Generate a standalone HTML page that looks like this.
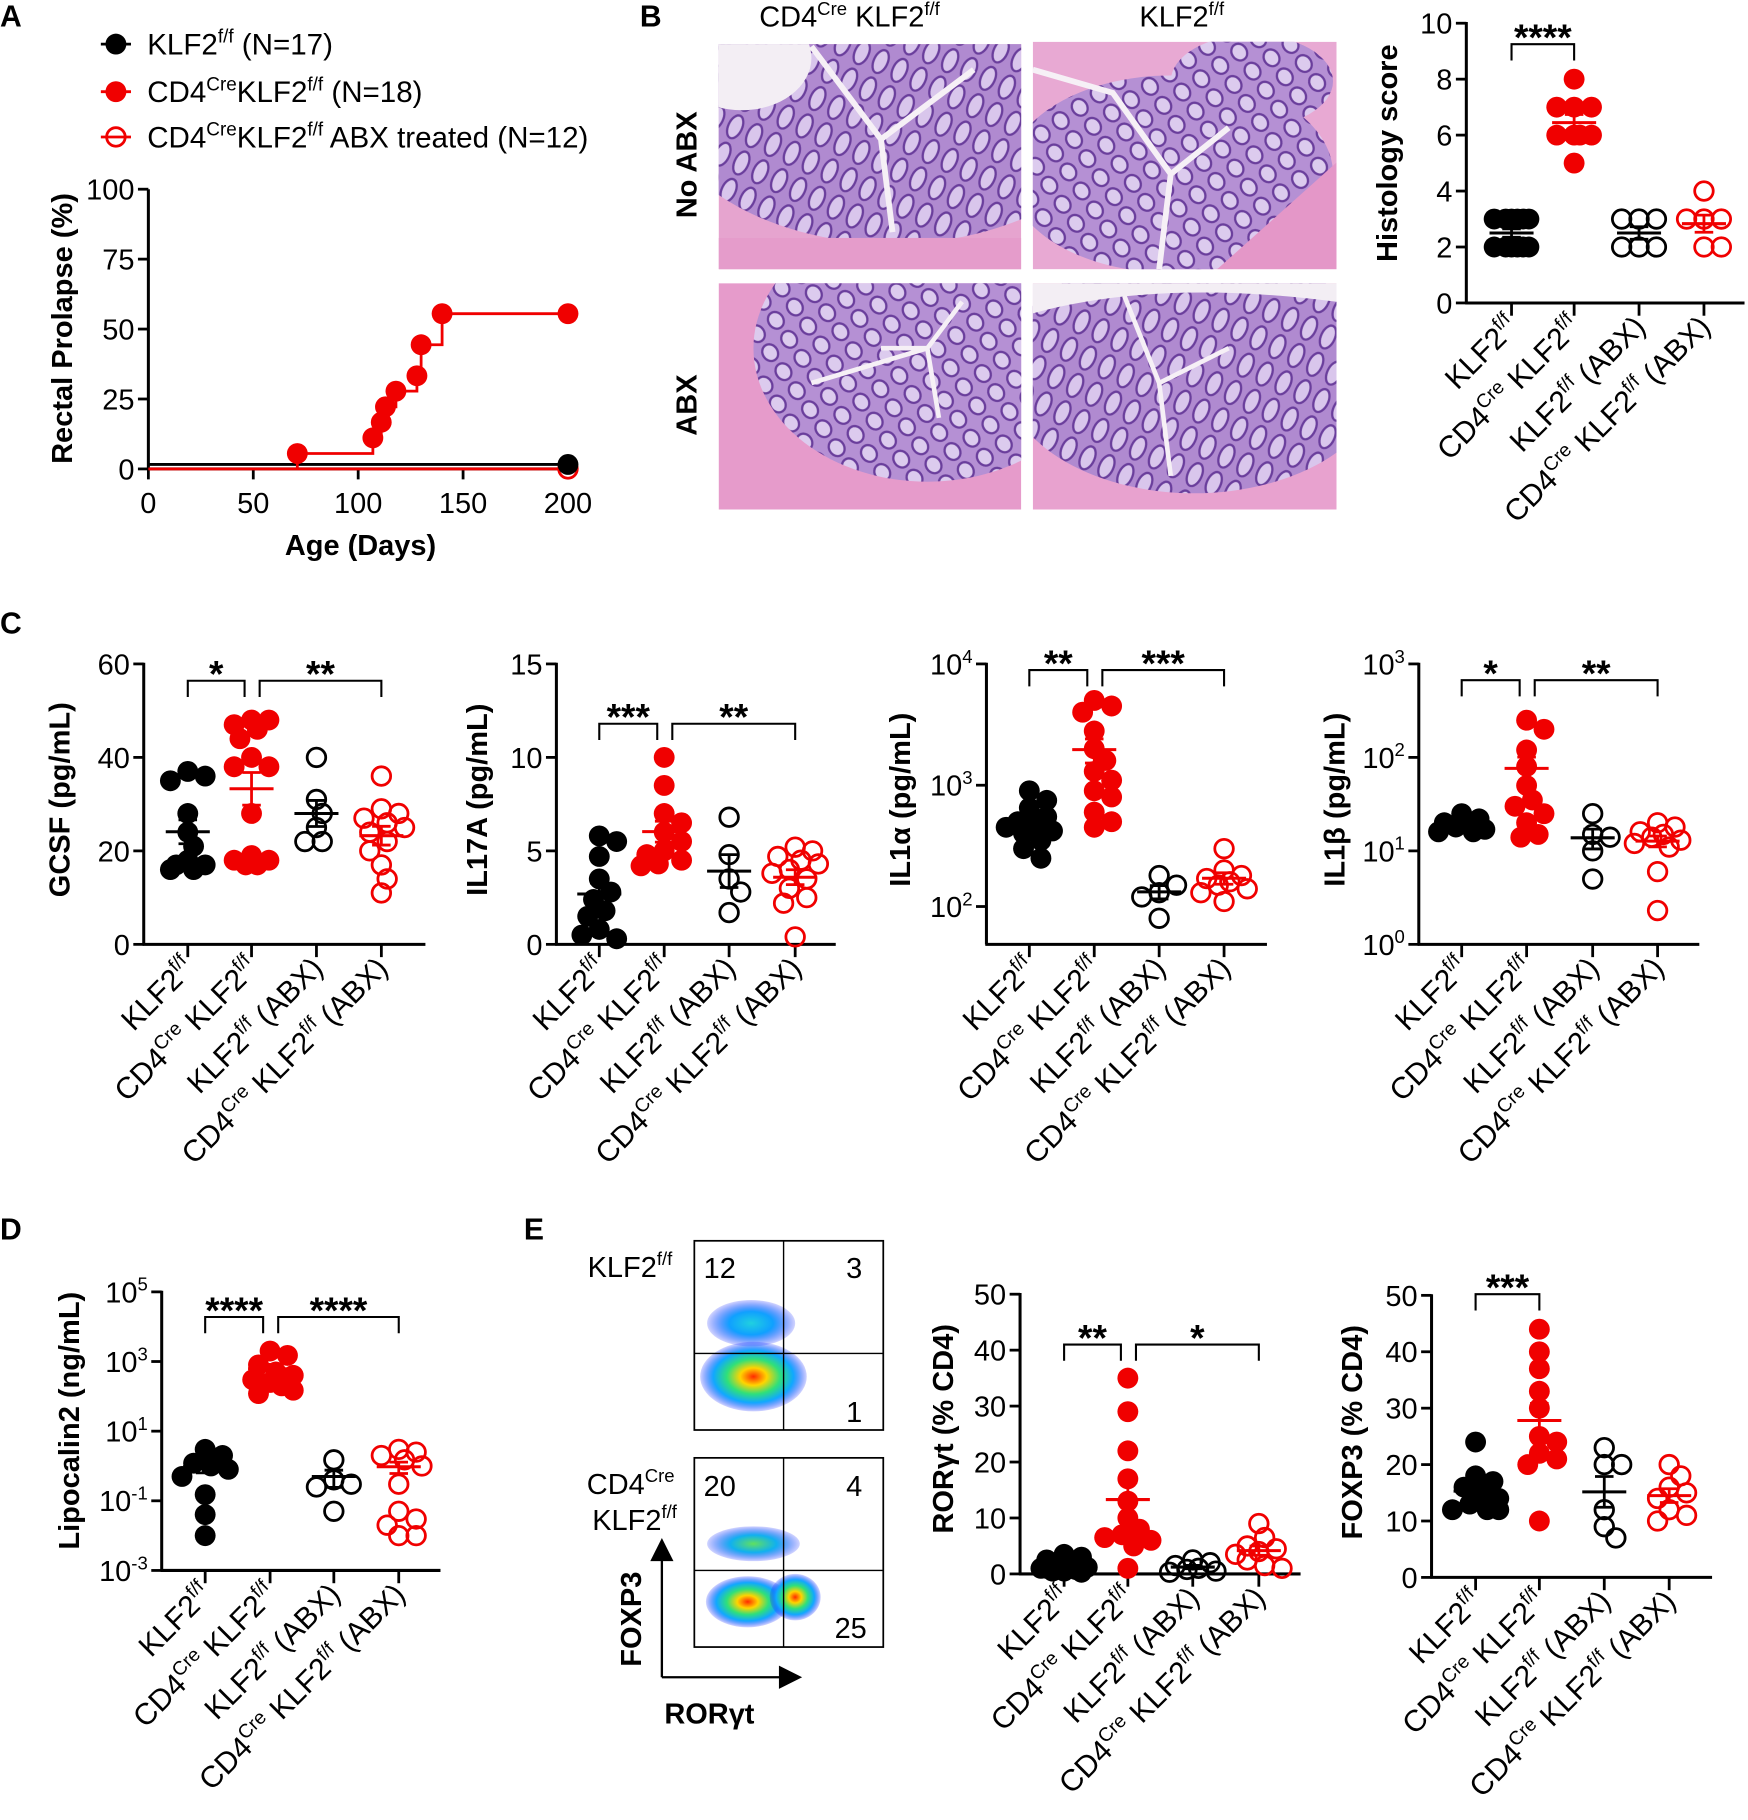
<!DOCTYPE html>
<html><head><meta charset="utf-8"><style>
html,body{margin:0;padding:0;background:#fff;}
svg{display:block;font-family:"Liberation Sans",Arial,sans-serif;}
</style></head><body>
<svg id="fig" xmlns="http://www.w3.org/2000/svg" width="1748" height="1820" viewBox="0 0 1508 1568" preserveAspectRatio="none">
<defs>
<pattern id="crypt" width="18" height="26" patternUnits="userSpaceOnUse" patternTransform="rotate(25)">
<rect width="18" height="26" fill="#b08ad0"/>
<ellipse cx="9" cy="13" rx="6" ry="10.5" fill="#d9c6ec" stroke="#6a3e9c" stroke-width="2"/>
</pattern>
<pattern id="crypt2" width="20" height="20" patternUnits="userSpaceOnUse" patternTransform="rotate(-35)">
<rect width="20" height="20" fill="#b590d4"/>
<ellipse cx="10" cy="10" rx="6.5" ry="7.5" fill="#dccbee" stroke="#6a3e9c" stroke-width="2"/>
</pattern>
<radialGradient id="flowA"><stop offset="0" stop-color="#ff2a00"/><stop offset="0.25" stop-color="#ffd400"/><stop offset="0.5" stop-color="#2fe07a"/><stop offset="0.75" stop-color="#10a8ff"/><stop offset="1" stop-color="#1a2cff" stop-opacity="0.2"/></radialGradient>
<radialGradient id="flowB"><stop offset="0" stop-color="#20d0e0"/><stop offset="0.5" stop-color="#10a0ff"/><stop offset="1" stop-color="#1a2cff" stop-opacity="0.2"/></radialGradient>
<radialGradient id="flowC"><stop offset="0" stop-color="#60e060"/><stop offset="0.5" stop-color="#10b0f0"/><stop offset="1" stop-color="#1a2cff" stop-opacity="0.2"/></radialGradient>
<clipPath id="c1"><rect x="620" y="38" width="261" height="194"/></clipPath>
<clipPath id="c2"><rect x="891" y="36" width="262" height="196"/></clipPath>
<clipPath id="c3"><rect x="620" y="244" width="261" height="195"/></clipPath>
<clipPath id="c4"><rect x="891" y="244" width="262" height="195"/></clipPath>
</defs>

<text x="0" y="23" font-size="26" font-weight="bold">A</text>
<text x="552" y="23" font-size="26" font-weight="bold">B</text>
<text x="0" y="546" font-size="26" font-weight="bold">C</text>
<text x="0" y="1068" font-size="26" font-weight="bold">D</text>
<text x="452" y="1068" font-size="26" font-weight="bold">E</text>

<g>
<text x="655" y="23" font-size="25">CD4<tspan font-size="16" dy="-10">Cre</tspan><tspan dy="10"> KLF2</tspan><tspan font-size="16" dy="-10">f/f</tspan></text>
<text x="983" y="23" font-size="25">KLF2<tspan font-size="16" dy="-10">f/f</tspan></text>
<text transform="translate(601,142) rotate(-90)" text-anchor="middle" font-size="25" font-weight="bold">No ABX</text>
<text transform="translate(601,349) rotate(-90)" text-anchor="middle" font-size="25" font-weight="bold">ABX</text>
<g clip-path="url(#c1)">
<rect x="620" y="38" width="261" height="194" fill="#e6a4cf"/>
<ellipse cx="770" cy="70" rx="210" ry="140" fill="url(#crypt)"/>
<ellipse cx="640" cy="50" rx="60" ry="45" fill="#f3eef4"/>
<path d="M700 40 L760 120 M760 120 L840 60 M760 120 L770 200" stroke="#f6f0f6" stroke-width="5" fill="none"/>
<rect x="620" y="205" width="261" height="30" fill="#e59ccb"/>
</g>
<g clip-path="url(#c2)">
<rect x="891" y="36" width="262" height="196" fill="#e8a9d3"/>
<ellipse cx="1010" cy="150" rx="140" ry="85" fill="url(#crypt2)"/>
<ellipse cx="1080" cy="70" rx="70" ry="40" fill="url(#crypt2)"/>
<path d="M891 60 L960 80 L1010 150 L1060 110 M1010 150 L1000 232" stroke="#f6f0f6" stroke-width="5" fill="none"/>
<path d="M1153 140 L1153 232 L1050 232 Z" fill="#e497c8"/>
</g>
<g clip-path="url(#c3)">
<rect x="620" y="244" width="261" height="195" fill="#e69bcb"/>
<ellipse cx="800" cy="300" rx="150" ry="115" fill="url(#crypt2)"/>
<path d="M760 300 L800 300 L830 260 M800 300 L810 360 M800 300 L700 330" stroke="#f6f0f6" stroke-width="4" fill="none"/>
</g>
<g clip-path="url(#c4)">
<rect x="891" y="244" width="262" height="195" fill="#e8a2cf"/>
<ellipse cx="1030" cy="320" rx="165" ry="105" fill="url(#crypt)"/>
<path d="M891 270 Q1000 240 1153 260 L1153 244 L891 244 Z" fill="#f3eef4"/>
<path d="M970 255 L1000 330 L1060 300 M1000 330 L1010 410" stroke="#f6f0f6" stroke-width="4" fill="none"/>
</g>
</g>

<g>
<text x="580" y="1100" text-anchor="end" font-size="25">KLF2<tspan font-size="16" dy="-10">f/f</tspan></text>
<text x="582" y="1287" text-anchor="end" font-size="25">CD4<tspan font-size="16" dy="-10">Cre</tspan></text>
<text x="584" y="1318" text-anchor="end" font-size="25">KLF2<tspan font-size="16" dy="-10">f/f</tspan></text>
<g>
<rect x="599" y="1069" width="163" height="163" fill="#fff" stroke="#000" stroke-width="1.5"/>
<ellipse cx="648" cy="1140" rx="38" ry="20" fill="url(#flowB)"/>
<ellipse cx="650" cy="1186" rx="46" ry="30" fill="url(#flowA)"/>
<line x1="676" y1="1069" x2="676" y2="1232" stroke="#000" stroke-width="1.2"/>
<line x1="599" y1="1166" x2="762" y2="1166" stroke="#000" stroke-width="1.2"/>
<text x="607" y="1101" font-size="25">12</text><text x="730" y="1101" font-size="25">3</text><text x="730" y="1225" font-size="25">1</text>
</g>
<g>
<rect x="599" y="1256" width="163" height="163" fill="#fff" stroke="#000" stroke-width="1.5"/>
<ellipse cx="650" cy="1330" rx="40" ry="15" fill="url(#flowC)"/>
<ellipse cx="645" cy="1380" rx="36" ry="22" fill="url(#flowA)"/>
<ellipse cx="686" cy="1376" rx="22" ry="20" fill="url(#flowA)"/>
<line x1="676" y1="1256" x2="676" y2="1419" stroke="#000" stroke-width="1.2"/>
<line x1="599" y1="1353" x2="762" y2="1353" stroke="#000" stroke-width="1.2"/>
<text x="607" y="1289" font-size="25">20</text><text x="730" y="1289" font-size="25">4</text><text x="720" y="1411" font-size="25">25</text>
</g>
<g>
<line x1="571" y1="1445" x2="571" y2="1340" stroke="#000" stroke-width="2"/>
<polygon points="561,1345 581,1345 571,1325" fill="#000"/>
<line x1="571" y1="1445" x2="675" y2="1445" stroke="#000" stroke-width="2"/>
<polygon points="672,1435 672,1455 692,1445" fill="#000"/>
<text transform="translate(553,1395) rotate(-90)" text-anchor="middle" font-size="25" font-weight="bold">FOXP3</text>
<text x="612" y="1485" text-anchor="middle" font-size="25" font-weight="bold">RORγt</text>
</g>
</g>

<g id="charts"></g>
</svg>
<script>
// ---------- DATA ----------
const survRedDays = [71, 107, 111, 113, 118, 128, 130, 140, 200];
const survRedPct = [5.5, 11.1, 16.7, 22.2, 27.8, 33.3, 44.4, 55.5, 55.5];
const survBlackPct = 1.6;
const survAbxPct = 0;
const survXTicks = [0, 50, 100, 150, 200];
const survYTicks = [0, 25, 50, 75, 100];
const histoKlf = [3,3,3,3,3,3,2,2,2,2,2,2];
const histoCre = [8,7,7,7,6,6,6,6,5];
const histoKlfAbx = [3,3,3,2,2,2];
const histoCreAbx = [4,3,3,3,2,2];
const histoTicks = [0,2,4,6,8,10];
const gcsfKlf = [37,36,35,28,24,21,18,17,16,16,17];
const gcsfCre = [48,48,47,46,44,40,38,38,28,19,18,18,17,17];
const gcsfKlfAbx = [40,31,28,25,22,22];
const gcsfCreAbx = [36,29,28,27,26,25,24,22,20,17,14,11];
const gcsfTicks = [0,20,40,60];
const il17Klf = [5.8,5.5,4.7,3.5,2.8,2.4,1.8,1.5,0.8,0.3,0.5];
const il17Cre = [10,8.5,7,6.5,6,5.5,5,4.8,4.5,4.3,4.2];
const il17KlfAbx = [6.8,4.8,3.5,2.8,1.7];
const il17CreAbx = [5.2,5,4.7,4.5,4.3,4,3.8,3.5,3,2.5,2.2,0.4];
const il17Ticks = [0,5,10,15];
const il1aKlf = [900,750,650,550,500,480,450,420,400,350,300,250];
const il1aCre = [5000,4500,4000,2800,2000,1600,1300,1100,900,800,600,500,450];
const il1aKlfAbx = [180,150,130,120,80];
const il1aCreAbx = [300,200,180,170,160,150,140,130,110];
const il1aTickExp = [2,3,4];
const il1bKlf = [25,22,20,19,18,17,16,16];
const il1bCre = [250,200,120,80,50,35,30,25,20,15,14];
const il1bKlfAbx = [25,15,14,10,5];
const il1bCreAbx = [20,18,16,15,14,13,12,11,6,2.3];
const il1bTickExp = [0,1,2,3];
const lcnKlf = [3,2,1.2,1,0.8,0.5,0.15,0.04,0.01];
const lcnCre = [2000,1500,800,500,400,300,250,200,150,120];
const lcnKlfAbx = [1.5,0.4,0.3,0.25,0.05];
const lcnCreAbx = [3,2.5,2,1.5,1,0.3,0.05,0.03,0.01,0.01,0.02];
const lcnTickExp = [-3,-1,1,3,5];
const rorKlf = [3.5,3,2.5,2,1.5,1.2,1,0.8,0.5,0.5,0.3,1,2];
const rorCre = [35,29,22,17,13,10,8,7,6.5,6,5,1];
const rorKlfAbx = [2.5,2,1.5,1,0.8,0.5,0.3];
const rorCreAbx = [9,6.5,5,4.5,4,3.5,2.5,1.5,1];
const rorTicks = [0,10,20,30,40,50];
const foxKlf = [24,18,17,16,15,14,13,12,12,12];
const foxCre = [44,40,37,33,30,25,24,22,21,20,10];
const foxKlfAbx = [23,20,20,12,9,7];
const foxCreAbx = [20,18,16,15,14,12,11,10];
const foxTicks = [0,10,20,30,40,50];
const histoSig = [[0,1,9.25,'****']];
const gcsfSig = [[0,1,56.4,'*'],[1,3,56.4,'**']];
const il17Sig = [[0,1,11.8,'***'],[1,3,11.8,'**']];
const il1aSig = [[0,1,8900,'**'],[1,3,8900,'***']];
const il1bSig = [[0,1,670,'*'],[1,3,670,'**']];
const lcnSig = [[0,1,19000,'****'],[1,3,19000,'****']];
const rorSig = [[0,1,41,'**'],[1,3,41,'*']];
const foxSig = [[0,1,50.2,'***']];

// ---------- DRAWING ----------
const NS = 'http://www.w3.org/2000/svg';
const root = document.getElementById('charts');
const RED = '#f00000';
const FS = 25;
function mk(tag, attrs, parent) {
  const e = document.createElementNS(NS, tag);
  for (const k in attrs) e.setAttribute(k, attrs[k]);
  (parent || root).appendChild(e);
  return e;
}
function rich(parent, x, y, parts, size, anchor, rot) {
  const t = mk('text', {x: x, y: y, 'font-size': size, 'text-anchor': anchor || 'start'}, parent);
  if (rot) t.setAttribute('transform', 'rotate(' + rot + ' ' + x + ' ' + y + ')');
  let up = false;
  parts.forEach(p => {
    const s = mk('tspan', {}, t);
    if (p[1]) { s.setAttribute('font-size', size * 0.64); s.setAttribute('dy', -size * 0.4); up = true; }
    else if (up) { s.setAttribute('dy', size * 0.4); up = false; }
    s.textContent = p[0];
  });
  return t;
}
const catLabels = [
  [['KLF2'],['f/f',1]],
  [['CD4'],['Cre',1],[' KLF2'],['f/f',1]],
  [['KLF2'],['f/f',1],[' (ABX)']],
  [['CD4'],['Cre',1],[' KLF2'],['f/f',1],[' (ABX)']]
];

function dotChart(c) {
  const g = mk('g', {});
  
  
  const isLog = c.log;
  const lo = isLog ? Math.log10(c.min) : c.min, hi = isLog ? Math.log10(c.max) : c.max;
  const y = v => c.yBot - ((isLog ? Math.log10(v) : v) - lo) / (hi - lo) * (c.yBot - c.yTop);
  const ya = mk('line', {x1: c.x0, y1: c.yTop - 1, x2: c.x0, y2: c.yBot, stroke: '#000', 'stroke-width': 2.6}, g);
  
  
  const xa = mk('line', {x1: c.x0 - 1, y1: c.yBot, x2: c.x1, y2: c.yBot, stroke: '#000', 'stroke-width': 2.6}, g);
  
  
  c.ticks.forEach(tv => {
    const v = isLog ? Math.pow(10, tv) : tv;
    const yy = y(v);
    mk('line', {x1: c.x0 - 9, y1: yy, x2: c.x0, y2: yy, stroke: '#000', 'stroke-width': 2.4}, g);
    let t;
    if (isLog) t = rich(g, c.x0 - 12, yy + 9, [['10'], [String(tv), 1]], FS, 'end');
    else { t = mk('text', {x: c.x0 - 12, y: yy + 9, 'font-size': FS, 'text-anchor': 'end'}, g); t.textContent = tv; }
    
    
  });
  c.cats.forEach((cx, i) => {
    mk('line', {x1: cx, y1: c.yBot, x2: cx, y2: c.yBot + 11, stroke: '#000', 'stroke-width': 2.4}, g);
    const t = rich(g, cx + 7, c.yBot + 22, catLabels[i], 26, 'end', -45);
    
    
  });
  const tt = mk('text', {transform: 'translate(' + c.titleX + ',' + c.titleY + ') rotate(-90)', 'text-anchor': 'middle', 'font-size': 25, 'font-weight': 'bold'}, g);
  tt.textContent = c.title;
  
  
  const styles = [['#000', false], [RED, false], ['#000', true], [RED, true]];
  c.groups.forEach((data, gi) => {
    const col = styles[gi][0], open = styles[gi][1];
    const cx = c.cats[gi];
    const placed = [];
    const r = 9;
    const cands = [0, 5, -5, 10, -10, 15, -15, 20, -20];
    data.forEach(v => {
      const py = y(v);
      let best = 0, bestD = -1;
      for (let k = 0; k < cands.length; k++) {
        const off = cands[k];
        const md = placed.length ? Math.min(...placed.map(p => Math.hypot(p[0] - off, p[1] - py))) : 1e9;
        if (md > 13) { best = off; bestD = md; break; }
        if (md > bestD) { bestD = md; best = off; }
      }
      placed.push([best, py]);
      const d = mk('circle', {cx: cx + best, cy: py, r: open ? r - 1 : r, fill: open ? 'none' : col, stroke: col, 'stroke-width': open ? 2.4 : 0}, g);
      
      
    });
    const n = data.length;
    const mean = data.reduce((a, b) => a + b, 0) / n;
    const sd = Math.sqrt(data.reduce((a, b) => a + (b - mean) * (b - mean), 0) / (n - 1));
    const sem = sd / Math.sqrt(n);
    const ym = y(mean);
    const ml = mk('line', {x1: cx - 19, y1: ym, x2: cx + 19, y2: ym, stroke: col, 'stroke-width': 2.6}, g);
    
    
    const top = y(mean + sem);
    const botV = mean - sem;
    const bot = (isLog && botV <= c.min) ? ym : y(Math.max(botV, c.min));
    mk('line', {x1: cx, y1: top, x2: cx, y2: bot, stroke: col, 'stroke-width': 2.4}, g);
    mk('line', {x1: cx - 8, y1: top, x2: cx + 8, y2: top, stroke: col, 'stroke-width': 2.4}, g);
    mk('line', {x1: cx - 8, y1: bot, x2: cx + 8, y2: bot, stroke: col, 'stroke-width': 2.4}, g);
  });
  c.sig.forEach(s => {
    const by = y(s[2]);
    const xl = c.cats[s[0]] + (s[0] === 1 ? 7 : 0);
    const xr = c.cats[s[1]] - (s[1] === 1 && c.sig.length > 1 ? 6 : 0);
    const p = mk('path', {d: 'M' + xl + ' ' + (by + 14) + ' V' + by + ' H' + xr + ' V' + (by + 14), fill: 'none', stroke: '#000', 'stroke-width': 1.8}, g);
    
    
    const t = mk('text', {x: (xl + xr) / 2, y: by + 5, 'font-size': 32, 'font-weight': 'bold', 'text-anchor': 'middle'}, g);
    t.textContent = s[3];
    
    
  });
}

dotChart({name: 'histology-score-chart', x0: 1265, x1: 1505, yTop: 20, yBot: 261, cats: [1304,1358,1414,1470], min: 0, max: 10, ticks: histoTicks, groups: [histoKlf, histoCre, histoKlfAbx, histoCreAbx], sig: histoSig, title: 'Histology score', titleX: 1205, titleY: 132});
dotChart({name: 'gcsf-chart', x0: 124, x1: 367, yTop: 572, yBot: 813.6, cats: [162,217,273,329], min: 0, max: 60, ticks: gcsfTicks, groups: [gcsfKlf, gcsfCre, gcsfKlfAbx, gcsfCreAbx], sig: gcsfSig, title: 'GCSF (pg/mL)', titleX: 60, titleY: 689});
dotChart({name: 'il17a-chart', x0: 480, x1: 721, yTop: 572, yBot: 813.6, cats: [517,573,629,686], min: 0, max: 15, ticks: il17Ticks, groups: [il17Klf, il17Cre, il17KlfAbx, il17CreAbx], sig: il17Sig, title: 'IL17A (pg/mL)', titleX: 420, titleY: 689});
dotChart({name: 'il1a-chart', x0: 851, x1: 1093, yTop: 572, yBot: 813.6, cats: [888,944,1000,1056], log: true, min: Math.pow(10, 1.688), max: 10000, ticks: il1aTickExp, groups: [il1aKlf, il1aCre, il1aKlfAbx, il1aCreAbx], sig: il1aSig, title: 'IL1α (pg/mL)', titleX: 785, titleY: 689});
dotChart({name: 'il1b-chart', x0: 1224, x1: 1466, yTop: 572, yBot: 813.6, cats: [1261,1317,1374,1430], log: true, min: 1, max: 1000, ticks: il1bTickExp, groups: [il1bKlf, il1bCre, il1bKlfAbx, il1bCreAbx], sig: il1bSig, title: 'IL1β (pg/mL)', titleX: 1160, titleY: 689});
dotChart({name: 'lipocalin2-chart', x0: 139.5, x1: 380, yTop: 1113, yBot: 1353, cats: [177,233,288,344], log: true, min: 0.001, max: 100000, ticks: lcnTickExp, groups: [lcnKlf, lcnCre, lcnKlfAbx, lcnCreAbx], sig: lcnSig, title: 'Lipocalin2 (ng/mL)', titleX: 68, titleY: 1224});
dotChart({name: 'rorgt-chart', x0: 880, x1: 1122, yTop: 1115, yBot: 1356, cats: [918,973,1029,1086], min: 0, max: 50, ticks: rorTicks, groups: [rorKlf, rorCre, rorKlfAbx, rorCreAbx], sig: rorSig, title: 'RORγt (% CD4)', titleX: 822, titleY: 1231});
dotChart({name: 'foxp3-chart', x0: 1235, x1: 1477, yTop: 1116, yBot: 1359, cats: [1273,1328,1384,1440], min: 0, max: 50, ticks: foxTicks, groups: [foxKlf, foxCre, foxKlfAbx, foxCreAbx], sig: foxSig, title: 'FOXP3 (% CD4)', titleX: 1175, titleY: 1234});

(function () {
  const g = mk('g', {});
  
  
  const X0 = 128, X1 = 490, YT = 163, YB = 404;
  const x = d => X0 + d / 200 * (X1 - X0);
  const y = v => YB - v / 100 * (YB - YT);
  mk('line', {x1: X0, y1: YT, x2: X0, y2: YB, stroke: '#000', 'stroke-width': 2.6}, g);
  mk('line', {x1: X0, y1: YB, x2: X1 + 4, y2: YB, stroke: '#000', 'stroke-width': 2.6}, g);
  survYTicks.forEach(v => {
    mk('line', {x1: X0 - 9, y1: y(v), x2: X0, y2: y(v), stroke: '#000', 'stroke-width': 2.4}, g);
    const t = mk('text', {x: X0 - 12, y: y(v) + 9, 'font-size': FS, 'text-anchor': 'end'}, g);
    t.textContent = v;
    
    
  });
  survXTicks.forEach(v => {
    mk('line', {x1: x(v), y1: YB, x2: x(v), y2: YB + 9, stroke: '#000', 'stroke-width': 2.4}, g);
    const t = mk('text', {x: x(v), y: YB + 38, 'font-size': FS, 'text-anchor': 'middle'}, g);
    t.textContent = v;
    
    
  });
  const xt = mk('text', {x: 311, y: 478, 'font-size': 25, 'text-anchor': 'middle', 'font-weight': 'bold'}, g);
  xt.textContent = 'Age (Days)';
  
  
  const yt = mk('text', {transform: 'translate(62,283) rotate(-90)', 'font-size': 25, 'text-anchor': 'middle', 'font-weight': 'bold'}, g);
  yt.textContent = 'Rectal Prolapse (%)';
  
  
  const bl = mk('line', {x1: X0, y1: y(survBlackPct), x2: x(200), y2: y(survBlackPct), stroke: '#000', 'stroke-width': 2.4}, g);
  
  
  const al = mk('line', {x1: X0, y1: y(survAbxPct), x2: x(200), y2: y(survAbxPct), stroke: RED, 'stroke-width': 2.4}, g);
  
  
  let d = 'M' + x(survRedDays[0]) + ' ' + y(0);
  survRedDays.forEach((dd, i) => { d += ' H' + x(dd) + ' V' + y(survRedPct[i]); });
  const rl = mk('path', {d: d, fill: 'none', stroke: RED, 'stroke-width': 2.4}, g);
  
  
  survRedDays.forEach((dd, i) => {
    const c = mk('circle', {cx: x(dd), cy: y(survRedPct[i]), r: 9, fill: RED}, g);
    
    
  });
  const oc = mk('circle', {cx: x(200), cy: y(survAbxPct), r: 8, fill: '#fff', stroke: RED, 'stroke-width': 2.4}, g);
  
  
  const bc = mk('circle', {cx: x(200), cy: y(survBlackPct), r: 9, fill: '#000'}, g);
  
  
  const legend = [
    ['#000', false, [['KLF2'],['f/f',1],[' (N=17)']]],
    [RED, false, [['CD4'],['Cre',1],['KLF2'],['f/f',1],[' (N=18)']]],
    [RED, true, [['CD4'],['Cre',1],['KLF2'],['f/f',1],[' ABX treated (N=12)']]]
  ];
  const ly = [38, 79, 118];
  legend.forEach((L, i) => {
    const lg = mk('g', {}, g);
    
    
    mk('line', {x1: 87, y1: ly[i], x2: 113, y2: ly[i], stroke: L[0], 'stroke-width': 2.4}, lg);
    mk('circle', {cx: 100, cy: ly[i], r: L[1] ? 8 : 9, fill: L[1] ? 'none' : L[0], stroke: L[0], 'stroke-width': L[1] ? 2.4 : 0}, lg);
    rich(lg, 127, ly[i] + 9, L[2], 25.5, 'start');
  });
})();
</script>
</body></html>
